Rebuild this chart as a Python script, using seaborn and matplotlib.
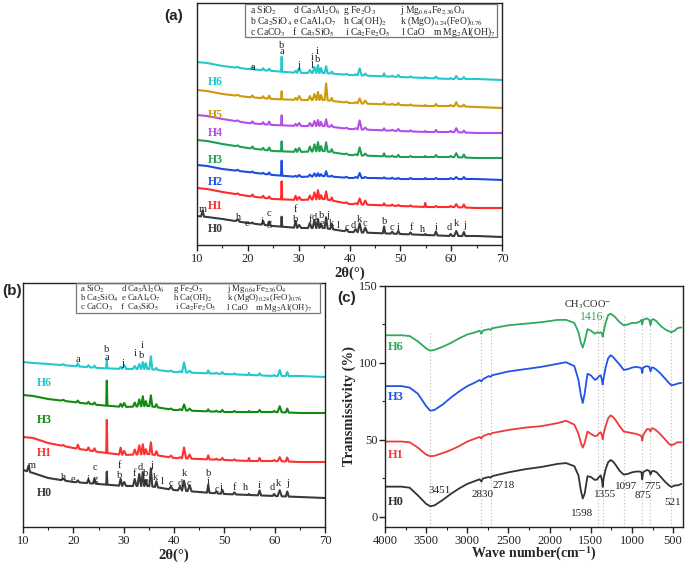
import numpy as np
import matplotlib
matplotlib.use("Agg")
import matplotlib.pyplot as plt
from matplotlib.patches import Rectangle
from matplotlib.ticker import MultipleLocator
import seaborn as sns

# ---------------------------------------------------------------- data
# XRD: baseline intensity (arb. units) read at these 2theta positions
XRD_BASE_THETA = [10, 12, 15, 20, 25, 30, 35, 40, 45, 50, 55, 60, 65, 70]
# diffraction peak positions (2theta) and their half widths
PEAK_THETA = [11.1, 18.0, 20.9, 23.0, 24.2, 26.65, 29.4, 30.1, 32.2, 33.1, 33.8, 34.4,
              35.4, 36.5, 39.4, 41.2, 42.0, 43.1, 46.8, 48.4, 49.6, 52.0, 54.9, 57.0,
              59.9, 61.0, 62.5]
PEAK_HALFWIDTH = [0.3, 0.4, 0.3, 0.3, 0.3, 0.12, 0.3, 0.4, 0.35, 0.35, 0.3, 0.3,
                  0.3, 0.3, 0.4, 0.4, 0.4, 0.4, 0.25, 0.3, 0.3, 0.3, 0.2, 0.3,
                  0.3, 0.4, 0.3]

# panel (a)
A_H6_BASE = [183, 182, 179, 176, 174, 172, 172, 170, 169, 168, 167, 166, 166, 165]
A_H5_BASE = [155, 154, 151, 148, 146, 145, 145, 142, 141, 140, 139, 139, 138, 137]
A_H4_BASE = [130, 129, 126, 122, 120, 119, 119, 116, 115, 114, 113, 113, 112, 112]
A_H3_BASE = [105, 104, 101, 97, 94, 93, 94, 90, 89, 88, 88, 88, 87, 87]
A_H2_BASE = [80, 79, 76, 73, 70, 68, 69, 67, 67, 66, 66, 66, 66, 65]
A_H1_BASE = [57, 56, 53, 49, 46, 45, 46, 41, 40, 39, 38, 38, 37, 37]
A_H0_BASE = [29, 28, 26, 22, 19, 17, 17, 13, 12, 11, 10, 9, 9, 8]

A_H6_PEAKS = [0, 1, 3, 2, 2, 15, 2, 5, 3, 6, 8, 5, 7, 2, 1, 1, 7, 2, 3, 1, 2, 1, 1, 2, 1, 3, 2]
A_H5_PEAKS = [0, 1, 2, 2, 3, 8, 2, 4, 4, 6, 8, 5, 17, 3, 1, 1, 5, 3, 2, 1, 2, 1, 1, 2, 1, 4, 2]
A_H4_PEAKS = [0, 1, 2, 2, 3, 10, 2, 3, 3, 5, 6, 4, 7, 2, 1, 1, 9, 2, 2, 1, 2, 1, 1, 2, 1, 4, 2]
A_H3_PEAKS = [0, 1, 2, 2, 3, 10, 3, 4, 5, 7, 9, 5, 9, 3, 1, 1, 8, 2, 3, 1, 2, 1, 1, 2, 1, 4, 3]
A_H2_PEAKS = [0, 1, 1, 1, 2, 15, 1, 2, 2, 3, 3, 2, 5, 1, 1, 1, 5, 1, 1, 1, 1, 1, 1, 1, 1, 2, 2]
A_H1_PEAKS = [0, 1, 2, 2, 2, 18, 4, 3, 4, 7, 9, 4, 8, 3, 1, 1, 6, 4, 2, 1, 1, 1, 4, 1, 1, 3, 3]
A_H0_PEAKS = [6, 2, 1, 4, 4, 10, 7, 3, 5, 8, 9, 4, 11, 5, 2, 3, 9, 5, 7, 2, 3, 2, 1, 4, 2, 5, 4]

# panel (b)
B_H6_BASE = [165, 164, 163, 161, 159, 158, 158, 155, 154, 153, 152, 151, 151, 150]
B_H3_BASE = [132, 131, 128, 125, 122, 120, 121, 117, 116, 115, 115, 115, 114, 114]
B_H1_BASE = [90, 89, 84, 79, 75, 72, 73, 69, 68, 67, 66, 66, 65, 65]
B_H0_BASE = [57, 54, 49, 45, 43, 41, 41, 37, 35, 33, 32, 31, 30, 29]

B_H6_PEAKS = [0, 1, 3, 2, 2, 9, 2, 4, 3, 5, 7, 6, 13, 2, 1, 1, 10, 2, 3, 1, 2, 1, 2, 2, 1, 6, 4]
B_H3_PEAKS = [0, 1, 2, 2, 2, 25, 3, 4, 4, 7, 10, 5, 11, 3, 1, 1, 6, 2, 2, 1, 2, 1, 1, 2, 1, 6, 4]
B_H1_PEAKS = [0, 1, 4, 3, 3, 33, 7, 4, 5, 9, 10, 5, 12, 4, 2, 1, 11, 4, 4, 1, 2, 1, 3, 3, 1, 4, 4]
B_H0_PEAKS = [6, 2, 2, 4, 5, 13, 7, 4, 7, 12, 14, 6, 18, 6, 3, 4, 10, 6, 8, 2, 4, 2, 1, 5, 2, 6, 5]

# phase letters
A_H0_LET = ["m", "h", "e", "i", "c", "g", "f", "b", "f", "d", "b", "e", "j", "k", "l", "c", "d",
            "k", "c", "b", "c", "i", "f", "h", "i", "d", "k", "j"]
A_H0_LET_X = [11.2, 18.1, 19.9, 22.8, 24.2, 24.2, 29.4, 29.4, 32.3, 33.1, 34.5, 34.5, 35.7, 36.5,
              37.7, 39.4, 40.8, 42.0, 43.0, 46.8, 48.3, 49.5, 52.1, 54.3, 57.0, 59.6, 61.0, 62.6]
A_H0_LET_Y = [35, 27, 22, 24, 31, 22, 36, 26, 26, 28, 29, 22, 30, 22, 19, 18, 19, 26, 21, 24,
              17, 18, 18, 16, 18, 17, 22, 20]
A_H6_LET = ["a", "b", "a", "j", "i", "l", "i", "b"]
A_H6_LET_X = [21.0, 26.7, 26.7, 30.0, 32.7, 32.7, 33.7, 33.7]
A_H6_LET_Y = [177, 200, 193, 179, 188, 179, 194, 185]

B_H0_LET = ["m", "h", "e", "i", "c", "g", "f", "b", "f", "d", "b", "e", "j", "k", "l", "c", "d",
            "k", "c", "b", "i", "c", "i", "f", "h", "i", "d", "k", "j"]
B_H0_LET_X = [11.7, 18.1, 19.9, 22.9, 24.3, 24.3, 29.2, 29.2, 32.2, 33.2, 34.4, 34.4, 35.6, 36.4,
              37.6, 39.4, 41.2, 42.0, 42.9, 46.9, 46.9, 48.5, 49.3, 52.1, 54.3, 56.9, 59.6, 60.8, 62.6]
B_H0_LET_Y = [62, 50, 48, 48, 59, 48, 62, 51, 54, 60, 54, 46, 62, 50, 45, 43, 44, 53, 44, 54,
              45, 38, 40, 39, 39, 42, 39, 44, 44]
B_H6_LET = ["a", "b", "a", "j", "i", "i", "b"]
B_H6_LET_X = [20.9, 26.6, 26.6, 29.8, 32.4, 33.6, 33.6]
B_H6_LET_Y = [167, 177, 170, 164, 174, 181, 172]

LEG_ROW1 = ["a SiO$_2$", "d Ca$_3$Al$_2$O$_6$", "g Fe$_2$O$_3$", "j Mg$_{0.64}$Fe$_{2.36}$O$_4$"]
LEG_ROW2 = ["b Ca$_2$SiO$_4$", "e CaAl$_4$O$_7$", "h Ca(OH)$_2$", "k (MgO)$_{0.24}$(FeO)$_{0.76}$"]
LEG_ROW3 = ["c CaCO$_3$", "f  Ca$_3$SiO$_5$", "i Ca$_2$Fe$_2$O$_5$", "l CaO", "m Mg$_2$Al(OH)$_7$"]

# FTIR
WAVENUMBER = [4000, 3800, 3700, 3600, 3500, 3451, 3400, 3300, 3200, 3100, 3000, 2900, 2850, 2830,
              2810, 2740, 2718, 2700, 2500, 2300, 2100, 1900, 1800, 1700, 1650, 1620, 1598, 1575,
              1540, 1500, 1450, 1420, 1400, 1380, 1365, 1355, 1345, 1320, 1290, 1260, 1230, 1200,
              1150, 1100, 1050, 1000, 950, 900, 885, 875, 865, 820, 790, 775, 760, 740, 700, 650,
              600, 550, 521, 480, 450, 420, 400]
FT_H0 = [19.7, 19.7, 19, 14, 8.5, 7, 7.5, 11, 15, 18.5, 21.5, 23.5, 24.5, 23, 25, 26, 25.5, 26.5,
         29, 31, 32.5, 34.5, 35, 33, 27, 17, 12, 15, 26.5, 26, 24, 24.5, 26, 27, 24, 19.5, 25, 31,
         35.5, 37, 36, 34, 30, 27.5, 28, 29, 29.5, 29.5, 29, 24.5, 29, 30.5, 30, 27.5, 29.5, 30,
         29, 26, 23, 20.5, 19.5, 20.5, 20.5, 21, 21.5]
FT_H1 = [49, 49, 48.5, 45, 40.5, 39.5, 39.7, 41.5, 43.5, 46, 49, 51, 52, 51, 52.5, 54, 53.5, 54.5,
         56.5, 58, 59, 61, 62.5, 60, 54, 48, 45, 48, 55.5, 54, 52.5, 53, 54.5, 55, 53, 50.5, 54, 59,
         64, 66, 65, 63, 59, 55.5, 55, 54.5, 54, 53, 52.5, 49.5, 53, 57, 57, 55.5, 57.5, 57.5, 56,
         53.5, 50.5, 47.5, 46.5, 47.5, 48.5, 48.5, 48.5]
FT_H3 = [85, 85, 84, 80, 72, 69, 69.5, 73, 77.5, 81.5, 85, 87.5, 89, 88, 89.5, 91.5, 91, 92, 94.5,
         96, 97.5, 99.5, 100.5, 98, 89, 79, 74, 80, 93, 92, 89, 90, 91.5, 92, 89, 86, 90, 97, 103,
         105, 104, 102, 99, 95.5, 96, 97, 97.5, 97, 96.5, 93.5, 97, 98, 97.5, 94.5, 97, 97, 95.5,
         93, 90, 87, 85.5, 86, 86.5, 87, 87]
FT_H6 = [118, 118, 117.5, 114, 109.5, 108, 108.5, 110.5, 113, 116, 118.5, 120, 121, 119, 121, 122,
         121.5, 122.5, 124.5, 125.5, 126.5, 128, 128, 126, 120, 113, 110, 114, 122, 121, 119, 120,
         119.5, 120, 119, 117, 120, 126, 131, 132, 131, 129.5, 126.5, 124.5, 125, 126, 126, 127,
         128, 125, 128, 129, 128, 124.5, 128, 128.5, 127, 124, 122, 120.5, 120, 121, 122.5, 123, 123]
FT_MARKS = [3451, 2830, 2718, 1416, 1355, 1097, 875, 775, 521]
FT_MARK_TOPS = [120, 127, 126, 132, 132, 132, 132, 132, 130]
FT_LABELS = ["3451", "2830", "2718", "1598", "1355", "1097", "875", "775", "521"]
FT_LABEL_X = [3332, 2819, 2564, 1605, 1321, 1074, 864, 743, 500]
FT_LABEL_Y = [17.1, 14.7, 20.3, 2.4, 14.3, 19.7, 13.8, 19.7, 9.3]

# ---------------------------------------------------------------- style
sns.set_style("ticks")
SERIF = ["Liberation Serif", "DejaVu Serif"]
plt.rcParams["font.family"] = SERIF
plt.rcParams["mathtext.fontset"] = "stix"
plt.rcParams["axes.linewidth"] = 1.0
plt.rcParams["axes.edgecolor"] = "#222222"
plt.rcParams["xtick.color"] = "#222222"
plt.rcParams["ytick.color"] = "#222222"

W, H = 685, 562
fig = plt.figure(figsize=(W / 100, H / 100), dpi=100)


def px_axes(l, t, r, b):
    return fig.add_axes([l / W, 1 - b / H, (r - l) / W, (b - t) / H])


def fx(x):
    return x / W


def fy(y):
    return 1 - y / H


def xrd_trace(base, heights):
    pts = set(XRD_BASE_THETA)
    for p, w in zip(PEAK_THETA, PEAK_HALFWIDTH):
        pts.update([p - w, p, p + w])
    xs = np.array(sorted(pts))
    ys = np.interp(xs, XRD_BASE_THETA, base).astype(float)
    for p, w, h in zip(PEAK_THETA, PEAK_HALFWIDTH, heights):
        ys += h * np.clip(1 - np.abs(xs - p) / w, 0, None)
    return xs, ys


def style_xrd(ax, ylim):
    ax.set_xlim(10, 70)
    ax.set_ylim(*ylim)
    ax.set_yticks([])
    ax.xaxis.set_major_locator(MultipleLocator(10))
    ax.xaxis.set_minor_locator(MultipleLocator(5))
    ax.tick_params(axis="x", which="major", length=4, width=1, labelsize=9, pad=1.5)
    ax.tick_params(axis="x", which="minor", length=2.5, width=0.8)
    for s in ax.spines.values():
        s.set_visible(True)
    ax.set_xlabel("2θ(°)", fontsize=10.5, fontweight="bold", labelpad=1)


def legend_box(x0, y0, x1, y1, cols12, cols3, rows, fs):
    fig.patches.append(Rectangle((fx(x0), fy(y1)), fx(x1) - fx(x0), fy(y0) - fy(y1),
                                 transform=fig.transFigure, fill=False,
                                 edgecolor="#777777", lw=0.9))
    for txt, cx in zip(LEG_ROW1, cols12):
        fig.text(fx(cx), fy(rows[0]), txt, fontsize=fs, va="center", ha="left")
    for txt, cx in zip(LEG_ROW2, cols12):
        fig.text(fx(cx), fy(rows[1]), txt, fontsize=fs, va="center", ha="left")
    for txt, cx in zip(LEG_ROW3, cols3):
        fig.text(fx(cx), fy(rows[2]), txt, fontsize=fs, va="center", ha="left")


def letters(ax, lx, ly, lt, fs):
    for x, y, t in zip(lx, ly, lt):
        ax.text(x, y, t, fontsize=fs, ha="center", va="center", color="#222222")


# ---------------------------------------------------------------- panel (a)
axa = px_axes(197, 3, 502, 245)
A_TRACES = [
    ("H6", A_H6_BASE, A_H6_PEAKS, "#22C8CC", 163),
    ("H5", A_H5_BASE, A_H5_PEAKS, "#CC9A0A", 130),
    ("H4", A_H4_BASE, A_H4_PEAKS, "#B54EE6", 112),
    ("H3", A_H3_BASE, A_H3_PEAKS, "#1F9E52", 85),
    ("H2", A_H2_BASE, A_H2_PEAKS, "#1E4EE0", 63),
    ("H1", A_H1_BASE, A_H1_PEAKS, "#FF2A2A", 39),
    ("H0", A_H0_BASE, A_H0_PEAKS, "#3A3A3A", 16),
]
for name, base, pk, col, ly in A_TRACES:
    xs, ys = xrd_trace(base, pk)
    sns.lineplot(x=xs, y=ys, ax=axa, color=col, lw=1.5, sort=False, estimator=None)
    axa.text(13.6, ly, name, color=col, fontsize=8.5, fontweight="bold", ha="center", va="center")
letters(axa, A_H0_LET_X, A_H0_LET_Y, A_H0_LET, 7.5)
letters(axa, A_H6_LET_X, A_H6_LET_Y, A_H6_LET, 7.5)
style_xrd(axa, (0, 242))
legend_box(245, 4, 497, 37, [250, 292.7, 343.3, 400], [250, 291.7, 345, 401.7, 433.3],
           [10.5, 21.7, 32.3], 6.9)
fig.text(fx(164), fy(16), "(a)", fontsize=11, fontweight="bold",
         family=["Liberation Sans", "DejaVu Sans"], va="center", ha="left")

# ---------------------------------------------------------------- panel (b)
axb = px_axes(23, 283, 325, 527)
B_TRACES = [
    ("H6", B_H6_BASE, B_H6_PEAKS, "#22C8CC", 144),
    ("H3", B_H3_BASE, B_H3_PEAKS, "#128A12", 107),
    ("H1", B_H1_BASE, B_H1_PEAKS, "#FF3030", 74),
    ("H0", B_H0_BASE, B_H0_PEAKS, "#3A3A3A", 34),
]
for name, base, pk, col, ly in B_TRACES:
    xs, ys = xrd_trace(base, pk)
    sns.lineplot(x=xs, y=ys, ax=axb, color=col, lw=1.5, sort=False, estimator=None)
    axb.text(14.3, ly, name, color=col, fontsize=8.5, fontweight="bold", ha="center", va="center")
letters(axb, B_H0_LET_X, B_H0_LET_Y, B_H0_LET, 7.5)
letters(axb, B_H6_LET_X, B_H6_LET_Y, B_H6_LET, 7.5)
style_xrd(axb, (0, 244))
legend_box(76, 283.5, 320, 313.3, [80, 120.7, 173.3, 226.7], [80, 120, 175, 226.7, 255],
           [289, 298.3, 307.7], 6.3)
fig.text(fx(2), fy(291), "(b)", fontsize=11, fontweight="bold",
         family=["Liberation Sans", "DejaVu Sans"], va="center", ha="left")

# ---------------------------------------------------------------- panel (c)
axc = px_axes(385, 286, 683, 527)
for x, top in zip(FT_MARKS, FT_MARK_TOPS):
    axc.plot([x, x], [-6.5, top], ls=(0, (1, 2)), color="#BBBBBB", lw=0.8, zorder=0)
C_TRACES = [
    ("H6", FT_H6, "#2EAA5E", 110.6),
    ("H3", FT_H3, "#1F55E8", 78),
    ("H1", FT_H1, "#F03A3A", 40),
    ("H0", FT_H0, "#333333", 10),
]
for name, vals, col, ly in C_TRACES:
    sns.lineplot(x=WAVENUMBER, y=vals, ax=axc, color=col, lw=1.3, sort=False, estimator=None)
    axc.text(3965, ly, name, color=col, fontsize=9, fontweight="bold", ha="left", va="center")
for t, x, y in zip(FT_LABELS, FT_LABEL_X, FT_LABEL_Y):
    axc.text(x, y, t, fontsize=8, ha="center", va="center", color="#222222")
axc.text(1539, 137.7, "CH$_3$COO$^{-}$", fontsize=7.5, ha="center", va="center", color="#222222")
axc.text(1491, 129.7, "1416", fontsize=8.5, ha="center", va="center", color="#2EAA5E")
axc.set_xlim(4000, 380)
axc.set_ylim(-6.5, 150)
axc.xaxis.set_major_locator(MultipleLocator(500))
axc.xaxis.set_minor_locator(MultipleLocator(250))
axc.yaxis.set_major_locator(MultipleLocator(50))
axc.yaxis.set_minor_locator(MultipleLocator(25))
axc.tick_params(which="major", length=4, width=1, labelsize=9, pad=1.5)
axc.tick_params(which="minor", length=2.5, width=0.8)
for s in axc.spines.values():
    s.set_visible(True)
axc.set_xlabel("Wave number(cm$^{\\mathbf{-1}}$)", fontsize=10, fontweight="bold")
axc.xaxis.set_label_coords(0.5, -0.076)
axc.set_ylabel("Transmissivity (%)", fontsize=10.5, fontweight="bold", labelpad=2)
fig.text(fx(337), fy(298), "(c)", fontsize=11, fontweight="bold",
         family=["Liberation Sans", "DejaVu Sans"], va="center", ha="left")

fig.savefig("out.png", dpi=100)
